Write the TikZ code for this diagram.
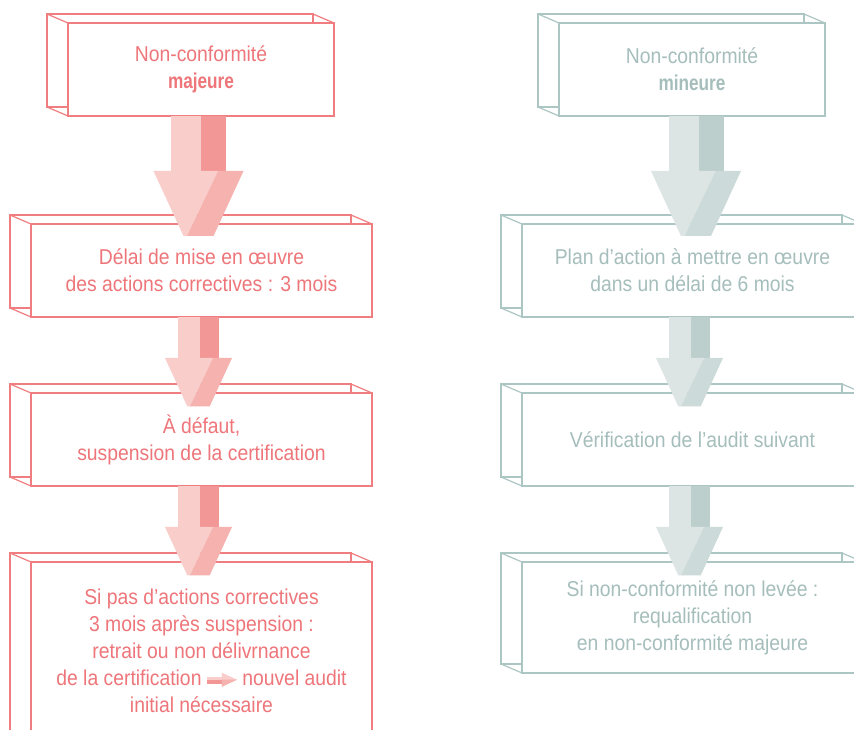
\documentclass[tikz,border=0pt]{standalone}
\usepackage{fontspec}
\setmainfont{Liberation Sans}[FakeStretch=0.9]
\newfontfamily\heavyfont{Liberation Sans}[FakeStretch=0.8]
\usepackage{xcolor}
\usepackage{tikz}
\usetikzlibrary{positioning, calc}

\definecolor{majline}{RGB}{240,125,128}
\definecolor{majtext}{RGB}{238,118,122}
\definecolor{majlight}{RGB}{248,205,202}
\definecolor{majdark}{RGB}{243,150,150}
\definecolor{majmid}{RGB}{245,178,175}
\definecolor{minline}{RGB}{172,198,196}
\definecolor{mintext}{RGB}{165,190,188}
\definecolor{minlight}{RGB}{220,229,228}
\definecolor{mindark}{RGB}{188,207,205}
\definecolor{minmid}{RGB}{204,219,217}

\tikzset{
  face/.style={draw, rectangle, fill=white, line width=1.2pt, inner sep=0pt, outer sep=0pt,
    align=center, font=\fontsize{21.5}{27}\selectfont},
  backface/.style={draw, rectangle, line width=1.2pt, inner sep=0pt, outer sep=0pt},
  edge3d/.style={line width=1.2pt}
}

% box seen in perspective: name, centre, width, height, colour set, text
\newcommand{\slab}[6]{
  \node[backface, draw=#5line, minimum width=#3, minimum height=#4] (#1b) at ($(#2)+(-21,-9)$) {};
  \draw[edge3d, #5line] (#1b.north west) -- ++(21,9) (#1b.north east) -- ++(21,9) (#1b.south west) -- ++(21,9);
  \node[face, draw=#5line, text=#5text, minimum width=#3, minimum height=#4] (#1) at (#2) {#6};
}

% big arrow below a box: node, x offset, scale, colour set
\newcommand{\flowarrow}[4]{
  \begin{scope}[shift={($(#1.south)+(#2,0)$)}, scale=#3]
    \fill[#4light] (-27.5,0) rectangle (2.5,55);
    \fill[#4dark] (2.5,0) rectangle (27.5,55);
    \fill[#4light] (-45,55) -- (19.5,55) -- (-11.5,120) -- (-15,120) -- cycle;
    \fill[#4mid] (19.5,55) -- (45,55) -- (15,120) -- (-11.5,120) -- cycle;
  \end{scope}
}

% small arrow inside the text
\newcommand{\inlinearrow}{\tikz[x=1pt, y=1pt, baseline=0pt]{
  \fill[majlight] (0,5.5) rectangle (15,9);
  \fill[majdark] (0,2) rectangle (15,5.5);
  \fill[majlight] (15,-1) -- (15,13) -- (30,6) -- cycle;
  \fill[majmid] (15,-1) -- (15,6) -- (30,6) -- cycle;
}}

\begin{document}
\begin{tikzpicture}[x=1pt, y=-1pt]
  \useasboundingbox (0,0) rectangle (854,730);
  \clip (0,0) rectangle (854,730);

  % major non-conformity
  \slab{maj1}{201,69.5}{266pt}{93pt}{maj}{Non-conformité\\{\heavyfont\bfseries majeure}}
  \slab{maj2}{201.5,270.5}{341pt}{93pt}{maj}{Délai de mise en œuvre\\des actions correctives : 3 mois}
  \slab{maj3}{201.5,439.5}{341pt}{93pt}{maj}{À défaut,\\suspension de la certification}
  \slab{maj4}{201.5,651}{341pt}{178pt}{maj}{Si pas d’actions correctives\\3 mois après suspension :\\retrait ou non délivrnance\\de la certification \inlinearrow{} nouvel audit\\initial nécessaire}

  % minor non-conformity
  \slab{min1}{692,69.5}{266pt}{93pt}{min}{Non-conformité\\{\heavyfont\bfseries mineure}}
  \slab{min2}{692.5,270.5}{341pt}{93pt}{min}{Plan d’action à mettre en œuvre\\dans un délai de 6 mois}
  \slab{min3}{692.5,439.5}{341pt}{93pt}{min}{Vérification de l’audit suivant}
  \slab{min4}{692.5,617.5}{341pt}{111pt}{min}{Si non-conformité non levée :\\requalification\\en non-conformité majeure}

  % arrows
  \flowarrow{maj1}{-2.5}{1}{maj}
  \flowarrow{maj2}{-3}{0.745}{maj}
  \flowarrow{maj3}{-3}{0.745}{maj}
  \flowarrow{min1}{4}{1}{min}
  \flowarrow{min2}{-3}{0.745}{min}
  \flowarrow{min3}{-3}{0.745}{min}
\end{tikzpicture}
\end{document}
